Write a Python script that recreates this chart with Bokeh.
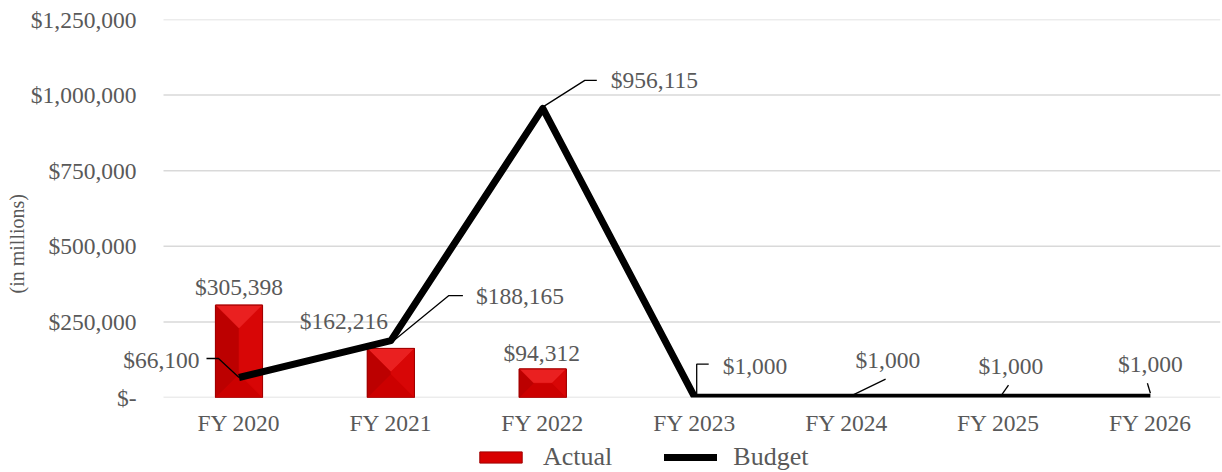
import numpy as np
from bokeh.plotting import figure
from bokeh.layouts import column
from bokeh.models import FixedTicker, Label, Legend, LegendItem, Range1d, Title
from bokeh.embed import file_html
from bokeh.resources import INLINE

# ---------------- data ----------------
categories = ["FY 2020", "FY 2021", "FY 2022", "FY 2023", "FY 2024", "FY 2025", "FY 2026"]
actual = [305398, 162216, 94312]
budget = [66100, 188165, 956115, 1000, 1000, 1000, 1000]
y_ticks = [0, 250000, 500000, 750000, 1000000, 1250000]
y_tick_labels = ["$-", "$250,000", "$500,000", "$750,000", "$1,000,000", "$1,250,000"]
y_title = "(in millions)"
series_names = ["Actual", "Budget"]

# ---------------- layout / style ----------------
FONT = "Liberation Serif"
TXT = "#595959"
FS = "23.5px"
W = 1222
H_MAIN, H_LEG = 440, 32
LEFT, TOP, RIGHT = 110, 19, 2       # frame borders (px)
FW, FH = W - LEFT - RIGHT, 378
BOTTOM = H_MAIN - TOP - FH
XPX = 151.9                         # px per category
FIRST_CAT_PX = 238.5                # page x of first category
GRID_LEFT_PX = 163                  # where gridlines start
XSTART = (LEFT - FIRST_CAT_PX) / XPX
XGRID0 = (GRID_LEFT_PX - FIRST_CAT_PX) / XPX
XEND = XSTART + FW / XPX
YMAX = y_ticks[-1]
YPX = FH / YMAX                     # px per unit value
BASE_FIX = 9                        # baseline correction (px)

def px_x(d):
    return d / XPX

def px_y(d):
    return d / YPX

xs = list(range(len(categories)))

p = figure(width=W, height=H_MAIN, output_backend="svg", toolbar_location=None,
           x_range=Range1d(XSTART, XEND), y_range=Range1d(0, YMAX),
           min_border_left=LEFT, min_border_right=RIGHT, min_border_top=TOP,
           min_border_bottom=BOTTOM, outline_line_color=None)

# gridlines (start right of the tick labels, as in the reference)
p.xgrid.visible = False
p.ygrid.visible = False
p.segment(x0=[XGRID0] * len(y_ticks), x1=[XEND] * len(y_ticks), y0=y_ticks, y1=y_ticks,
          line_color="#d9d9d9", line_width=1.5)

p.yaxis.ticker = FixedTicker(ticks=y_ticks)
p.yaxis.major_label_overrides = {t: l for t, l in zip(y_ticks, y_tick_labels)}
p.xaxis.ticker = FixedTicker(ticks=xs)
p.xaxis.major_label_overrides = {i: c for i, c in zip(xs, categories)}
for ax in (p.xaxis, p.yaxis):
    ax.axis_line_color = None
    ax.major_tick_line_color = None
    ax.minor_tick_line_color = None
    ax.major_tick_out = 0
    ax.major_tick_in = 0
    ax.major_label_text_font = FONT
    ax.major_label_text_font_size = FS
    ax.major_label_text_color = TXT
p.yaxis.major_label_standoff = 27 - (GRID_LEFT_PX - LEFT)
p.xaxis.major_label_standoff = 12

p.add_layout(Title(text=y_title, align="left", offset=104, standoff=0,
                   text_font=FONT, text_font_size="20px", text_color=TXT,
                   text_font_style="normal"), "left")

# ---------------- bars (bevelled) ----------------
BW = 0.31
ax_ = xs[:len(actual)]
BAR_FILL, BAR_LINE = "#d80000", "#a00000"
p.quad(left=[x - BW / 2 for x in ax_], right=[x + BW / 2 for x in ax_],
       bottom=0, top=actual, fill_color=BAR_FILL, line_color=BAR_LINE, line_width=1)

face_xs, face_ys, face_cols = [], [], []
for x, v in zip(ax_, actual):
    x0, x1, y0, y1 = x - BW / 2, x + BW / 2, 0, v
    d = min(BW * XPX / 2, v * YPX / 2)
    dx, dy = px_x(d), px_y(d)
    faces = [
        ([x0, x1, x1 - dx, x0 + dx], [y1, y1, y1 - dy, y1 - dy], "#ea2020"),  # top
        ([x0, x1, x1 - dx, x0 + dx], [y0, y0, y0 + dy, y0 + dy], "#cc0000"),  # bottom
        ([x0, x0, x0 + dx, x0 + dx], [y0, y1, y1 - dy, y0 + dy], "#bc0000"),  # left
        ([x1, x1, x1 - dx, x1 - dx], [y0, y1, y1 - dy, y0 + dy], "#d80606"),  # right
    ]
    for fx, fy, c in faces:
        face_xs.append(fx); face_ys.append(fy); face_cols.append(c)
p.patches(face_xs, face_ys, fill_color=face_cols, line_color=face_cols, line_width=0.5)
p.quad(left=[x - BW / 2 for x in ax_], right=[x + BW / 2 for x in ax_],
       bottom=0, top=actual, fill_color=None, line_color=BAR_LINE, line_width=1)

# ---------------- budget line ----------------
p.line(xs, budget, line_color="black", line_width=7, line_join="round")

# ---------------- data labels (screen units relative to frame) ----------------
def add_label(x, v, dx, dy, al, text):
    sx = (x - XSTART) * XPX + dx
    sy = v * YPX - dy + BASE_FIX
    p.add_layout(Label(x=sx, y=sy, x_units="screen", y_units="screen", text=text,
                       text_align=al, text_baseline="alphabetic", text_font=FONT,
                       text_font_size=FS, text_color=TXT))

# (dx, dy) in px from anchor (screen: +dy down), text align
actual_lab_pos = [(0, -9, "center"), (-3, -18, "right"), (-1, -6.5, "center")]
for x, v, (dx, dy, al) in zip(ax_, actual, actual_lab_pos):
    add_label(x, v, dx, dy, al, f"${v:,}")

budget_lab_pos = [(-39.5, -9, "right"), (85, -36, "left"), (68, -19, "left"),
                  (28, -22, "left"), (9, -28, "left"), (-20, -22, "left"), (0, -24, "center")]
leaders = [
    [(-32.5, -19), (-20.5, -19), (0, 0)],
    [(72, -45), (58, -45), (3, 0)],
    [(54, -28), (42, -28), (1, -2)],
    [(14, -33), (2, -33), (2, -1)],
    [(39, -18), (6, -2)],
    [(10, -12), (3, -2)],
    [(-3, -14), (0, -4)],
]
lx, ly = [], []
for x, v, (dx, dy, al), ld in zip(xs, budget, budget_lab_pos, leaders):
    add_label(x, v, dx, dy, al, f"${v:,}")
    lx.append([x + px_x(a) for a, b in ld])
    ly.append([v - px_y(b) for a, b in ld])
p.multi_line(lx, ly, line_color="black", line_width=1.3)

# ---------------- legend (separate strip below; frame aligned with main frame) ----------------
leg = figure(width=W, height=H_LEG, output_backend="svg", toolbar_location=None,
             x_range=Range1d(0, 1), y_range=Range1d(0, 1),
             x_axis_location=None, y_axis_location=None,
             min_border=0, outline_line_color=None)
leg.grid.visible = False
# legend-only proxies, placed outside the visible range
r_act = leg.quad(left=[5], right=[6], bottom=[5], top=[6], fill_color=BAR_FILL,
                 line_color=BAR_LINE, line_width=1)
r_bud = leg.line(x=[5, 6], y=[5, 6], line_color="black", line_width=7, line_cap="round")
legend = Legend(items=[LegendItem(label=series_names[0], renderers=[r_act]),
                       LegendItem(label=series_names[1], renderers=[r_bud])],
                orientation="horizontal", location=(474 - LEFT, 0),
                padding=0, margin=0, spacing=52, label_standoff=16,
                glyph_width=53, glyph_height=14,
                border_line_color=None, background_fill_alpha=0,
                label_text_font=FONT, label_text_font_size="26px", label_text_color=TXT)
leg.add_layout(legend)

layout = column(p, leg, spacing=0)
open("out.html", "w").write(file_html(layout, INLINE))
